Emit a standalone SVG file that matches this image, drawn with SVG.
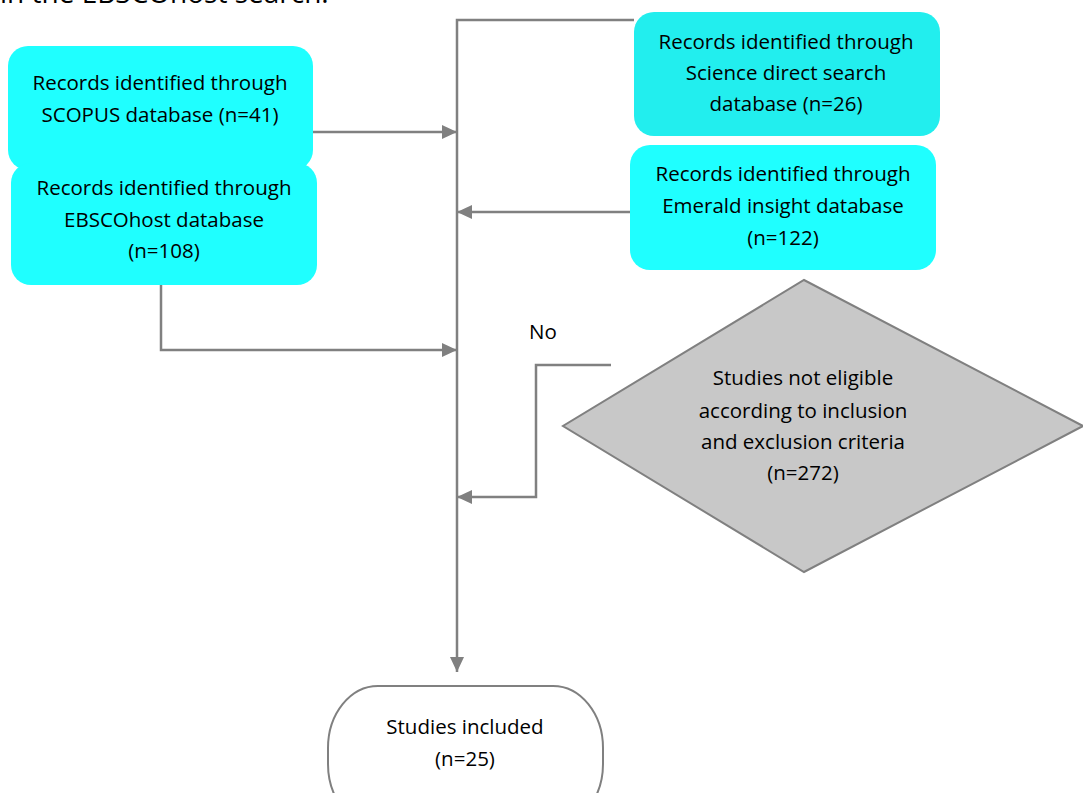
<svg xmlns="http://www.w3.org/2000/svg" width="1083" height="793" viewBox="0 0 1083 793">
<defs>
<style>
text{font-family:"Open Sans","Liberation Sans",sans-serif;font-size:20.5px;fill:#000;text-anchor:middle}
.box{fill:#1FFFFF;stroke:none}
.box2{fill:#22EEEE;stroke:none}
.conn{fill:none;stroke:#808080;stroke-width:2.5}
</style>
<marker id="ah" viewBox="0 0 15 14" refX="15" refY="7" markerWidth="15" markerHeight="14" markerUnits="userSpaceOnUse" orient="auto">
<path d="M0,0 L15,7 L0,14 Z" fill="#808080"/>
</marker>
</defs>
<rect width="1083" height="793" fill="#fff"/>
<text x="0" y="3" style="text-anchor:start;font-size:28px">in the EBSCOhost search.</text>
<g id="connectors">
<path class="conn" d="M634,20 L457,20 L457,672" marker-end="url(#ah)"/>
<path class="conn" d="M313,132 L457,132" marker-end="url(#ah)"/>
<path class="conn" d="M630,212 L457,212" marker-end="url(#ah)"/>
<path class="conn" d="M161,285 L161,350 L457,350" marker-end="url(#ah)"/>
<path class="conn" d="M611,365 L536,365 L536,497 L457,497" marker-end="url(#ah)"/>
<text x="543" y="339">No</text>
</g>
<g id="scopus">
<rect class="box" x="8" y="46" width="305" height="124" rx="20"/>
<text x="160" y="90">Records identified through</text>
<text x="160" y="122">SCOPUS database (n=41)</text>
</g>
<g id="ebsco">
<rect class="box" x="11" y="163" width="306" height="122" rx="20"/>
<text x="164" y="195">Records identified through</text>
<text x="164" y="227">EBSCOhost database</text>
<text x="164" y="258">(n=108)</text>
</g>
<g id="sciencedirect">
<rect class="box2" x="634" y="12" width="306" height="124" rx="20"/>
<text x="786" y="49">Records identified through</text>
<text x="786" y="80">Science direct search</text>
<text x="786" y="111">database (n=26)</text>
</g>
<g id="emerald">
<rect class="box" x="630" y="145" width="306" height="125" rx="20"/>
<text x="783" y="181">Records identified through</text>
<text x="783" y="213">Emerald insight database</text>
<text x="783" y="245">(n=122)</text>
</g>
<g id="notEligible">
<polygon points="804,280 1083,426 804,572 563,426" fill="#C8C8C8" stroke="#808080" stroke-width="2"/>
<text x="803" y="385">Studies not eligible</text>
<text x="803" y="418">according to inclusion</text>
<text x="803" y="449">and exclusion criteria</text>
<text x="803" y="480">(n=272)</text>
</g>
<g id="included">
<rect x="328" y="686" width="275" height="140" rx="50" ry="62" fill="#fff" stroke="#808080" stroke-width="2"/>
<text x="465" y="734">Studies included</text>
<text x="465" y="766">(n=25)</text>
</g>
</svg>
